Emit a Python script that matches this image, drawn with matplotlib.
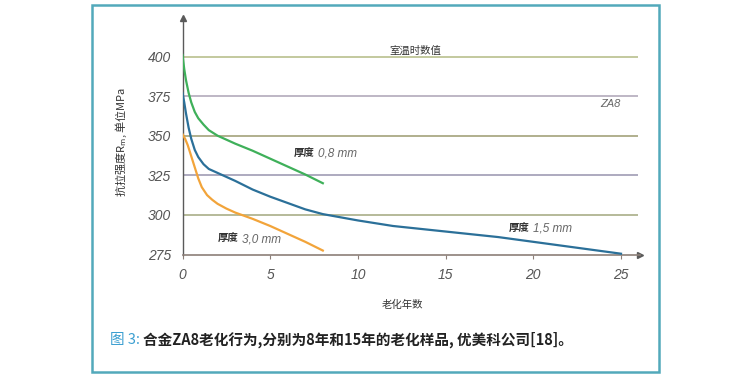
import matplotlib
matplotlib.use("Agg")
import matplotlib.pyplot as plt
from matplotlib.patches import Rectangle

plt.rcParams['font.family'] = ['Noto Sans CJK SC', 'DejaVu Sans']

# ---- data ----
grid_values = [400, 375, 350, 325, 300]
grid_colors = ['#b9c08e', '#b3aabb', '#a3a27a', '#a09cb4', '#a9ae88']
x_ticks = [0, 5, 10, 15, 20, 25]
y_ticks = [275, 300, 325, 350, 375, 400]

years_08 = [0, 0.1, 0.2, 0.35, 0.5, 0.7, 0.9, 1.2, 1.5, 2.0, 3, 4, 5, 6, 7, 8]
rm_08 = [401, 392, 385, 377, 371, 365, 361, 357, 353.5, 350, 345, 340.5, 335.5, 330.5, 325.5, 320]

years_15 = [0, 0.1, 0.2, 0.35, 0.5, 0.7, 0.9, 1.2, 1.5, 2, 2.5, 3, 4, 5, 6, 7, 8, 9, 10, 12, 15, 18, 20, 22, 25]
rm_15 = [377, 371, 364, 355, 348, 341, 336.5, 332, 329, 326.5, 324, 321.5, 316, 311.5, 307.5, 303.5,
         300.5, 298.5, 296.5, 293, 289.5, 286, 283, 280, 275.5]

years_30 = [0, 0.15, 0.3, 0.5, 0.7, 0.9, 1.1, 1.4, 1.7, 2, 2.5, 3, 4, 5, 6, 7, 8]
rm_30 = [351, 348, 344, 337, 330, 323, 317.5, 312.5, 309.5, 307, 304, 301.5, 297.5, 293, 288, 283, 277.5]

W, H = 754, 380
fig = plt.figure(figsize=(W / 100, H / 100), dpi=100)

# axes placement (pixel-based)
x0_px, px_per_year = 182.5, 17.54
y275_px, px_per_mpa = 254.5, 39.6 / 25
xmax, ymax = 26.1, 424.3
left = x0_px / W
width = xmax * px_per_year / W
bottom = (H - y275_px) / H
height = (ymax - 275) * px_per_mpa / H
ax = fig.add_axes([left, bottom, width, height])
ax.set_xlim(0, xmax)
ax.set_ylim(275, ymax)
ax.patch.set_alpha(0)

for s in ['top', 'right']:
    ax.spines[s].set_visible(False)
ax.spines['left'].set_color('#5a5a5a')
ax.spines['left'].set_linewidth(1.0)
ax.spines['bottom'].set_color('#8c7f78')
ax.spines['bottom'].set_linewidth(1.2)

# arrows
ax.plot(0, ymax, marker='^', color='#5a5a5a', markersize=4, clip_on=False)
ax.plot(xmax, 275, marker='>', color='#5a5a5a', markersize=4, clip_on=False)

for v, c in zip(grid_values, grid_colors):
    ax.hlines(v, 0, 25.97, color=c, linewidth=1.2, zorder=1)

ax.plot(years_08, rm_08, color='#3fb05a', linewidth=1.6, zorder=3)
ax.plot(years_15, rm_15, color='#2b7099', linewidth=1.6, zorder=3)
ax.plot(years_30, rm_30, color='#f2a43a', linewidth=1.6, zorder=3)

ax.set_xticks(x_ticks)
ax.set_yticks(y_ticks)
ax.set_xticklabels([str(t) for t in x_ticks], fontstyle='italic', color='#555555',
                   fontsize=10, family=['Liberation Sans', 'DejaVu Sans'])
ax.set_yticklabels([str(t) for t in y_ticks], fontstyle='italic', color='#555555',
                   fontsize=10, family=['Liberation Sans', 'DejaVu Sans'])
ax.tick_params(axis='x', length=3, color='#8c7f78', pad=7)
ax.tick_params(axis='y', length=0, pad=8)

# annotations
ax.text(13.3, 403.5, '室温时数值', fontsize=7.5, color='#333333', ha='center', va='center')
ax.text(24.4, 370, 'ZA8', fontsize=8, color='#666666', ha='center', va='center',
        fontstyle='italic', family=['Liberation Sans', 'DejaVu Sans'])

def thickness_label(x, y, num):
    ax.text(x, y, '厚度', fontsize=7.5, color='#333333', ha='left', va='center', fontweight='bold')
    ax.annotate(num, (x, y), xytext=(17.5, 0), textcoords='offset points', fontsize=8.5,
                color='#666666', ha='left', va='center', fontstyle='italic',
                family=['Liberation Sans', 'DejaVu Sans'])

thickness_label(6.35, 338.7, '0,8 mm')
thickness_label(18.6, 291.3, '1,5 mm')
thickness_label(2.0, 284.6, '3,0 mm')

# axis titles
fig.text(402 / W, 1 - 305 / H, '老化年数', fontsize=7.5, color='#333333', ha='center', va='center')
fig.text(121 / W, 1 - 142 / H, '抗拉强度R$_\\mathregular{m}$, 单位MPa', fontsize=8, color='#333333',
         ha='center', va='center', rotation=90)

# caption
t1 = fig.text(110 / W, 1 - 340 / H, '图 3:', fontsize=10.5, color='#3b9fd1', ha='left', va='center')
fig.canvas.draw()
bb = t1.get_window_extent()
fig.text((bb.x1 + 3) / W, 1 - 340 / H, '合金ZA8老化行为,分别为8年和15年的老化样品, 优美科公司[18]。',
         fontsize=10.5, color='#222222', ha='left', va='center', fontweight='bold')

# border
fig.patches.append(Rectangle((92 / W, 1 - 372 / H), (659 - 92) / W, (372 - 5) / H,
                             transform=fig.transFigure, fill=False, edgecolor='#52a9bb',
                             linewidth=1.8))

fig.savefig('out.png', dpi=100)
